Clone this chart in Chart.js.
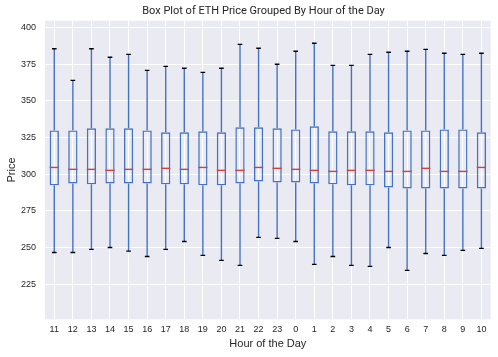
<!DOCTYPE html>
<html>
<head>
<meta charset="utf-8">
<script src="https://cdn.jsdelivr.net/npm/chart.js@4.4.1/dist/chart.umd.min.js"></script>
<style>
html,body{margin:0;padding:0;background:#fff;}
#wrap{width:498px;height:357px;position:relative;}
</style>
</head>
<body>
<div id="wrap"><canvas id="c" width="498" height="357"></canvas></div>
<script>
const hours = ['11','12','13','14','15','16','17','18','19','20','21','22','23','0','1','2','3','4','5','6','7','8','9','10'];
const whiskerLow  = [246.7,246.7,248.8,250.1,247.6,244.0,248.8,254.2,244.7,241.3,237.9,257.0,256.3,254.2,238.6,244.0,237.9,237.2,250.1,234.5,246.0,244.7,248.1,249.5];
const q1          = [292.4,293.7,293.1,293.7,293.7,293.7,293.1,293.1,292.4,292.4,293.7,295.1,294.4,294.4,293.7,293.1,292.4,292.4,291.0,290.3,290.3,290.3,290.3,290.3];
const medians     = [304.6,303.3,303.3,302.6,303.3,303.3,304.0,303.3,304.6,302.6,302.6,304.6,304.0,303.3,302.6,301.9,302.6,302.6,301.9,301.9,304.0,301.9,301.9,304.6];
const q3          = [329.8,329.8,331.2,331.2,331.2,329.8,328.5,328.5,329.2,328.5,331.9,331.9,331.2,330.5,332.6,329.2,329.2,329.2,328.5,329.8,329.8,330.5,330.5,328.5];
const whiskerHigh = [385.4,363.9,385.4,379.6,381.6,370.7,373.4,372.1,369.3,372.1,388.4,385.7,374.8,383.7,389.1,374.1,374.1,381.6,383.0,383.7,385.0,382.3,381.6,382.3];
const yTicks = [225,250,275,300,325,350,375,400];

const BLUE = '#4472C4', RED = '#D6403A', TXT = '#262626';
const FONT = "'Liberation Sans', Arial, sans-serif";

const bgPlugin = {
  id: 'bg',
  beforeDraw(chart) {
    const {ctx, chartArea: a} = chart;
    ctx.save();
    ctx.fillStyle = '#fff';
    ctx.fillRect(0, 0, chart.width, chart.height);
    ctx.fillStyle = '#EAEAF2';
    ctx.fillRect(a.left, a.top, a.right - a.left, a.bottom - a.top);
    ctx.restore();
  }
};

const boxPlugin = {
  id: 'boxparts',
  afterDatasetsDraw(chart) {
    const {ctx} = chart;
    const xs = chart.scales.x, ys = chart.scales.y;
    const meta = chart.getDatasetMeta(0);
    ctx.save();
    ctx.lineCap = 'butt';
    hours.forEach((h, i) => {
      const x = xs.getPixelForValue(i);
      const bw = meta.data[i].width;
      const capHalf = bw / 4;
      ctx.strokeStyle = BLUE;
      ctx.lineWidth = 1.4;
      ctx.beginPath();
      ctx.moveTo(x, ys.getPixelForValue(q3[i]));
      ctx.lineTo(x, ys.getPixelForValue(whiskerHigh[i]));
      ctx.moveTo(x, ys.getPixelForValue(q1[i]));
      ctx.lineTo(x, ys.getPixelForValue(whiskerLow[i]));
      ctx.stroke();
      ctx.strokeStyle = '#000';
      ctx.beginPath();
      const yh = ys.getPixelForValue(whiskerHigh[i]);
      const yl = ys.getPixelForValue(whiskerLow[i]);
      ctx.moveTo(x - capHalf, yh); ctx.lineTo(x + capHalf, yh);
      ctx.moveTo(x - capHalf, yl); ctx.lineTo(x + capHalf, yl);
      ctx.stroke();
      ctx.strokeStyle = RED;
      ctx.beginPath();
      const ym = ys.getPixelForValue(medians[i]);
      ctx.moveTo(x - bw / 2, ym); ctx.lineTo(x + bw / 2, ym);
      ctx.stroke();
    });
    ctx.restore();
  },
  afterDraw(chart) {
    const {ctx} = chart;
    ctx.save();
    ctx.fillStyle = TXT;
    ctx.font = "11px Roboto, 'Liberation Sans', sans-serif";
    ctx.textAlign = 'center';
    ctx.textBaseline = 'middle';
    ctx.fillText('Box Plot of ETH Price Grouped By Hour of the Day', 263.5, 11.7);
    ctx.restore();
  }
};

new Chart(document.getElementById('c'), {
  type: 'bar',
  data: {
    labels: hours,
    datasets: [{
      data: hours.map((h, i) => [q1[i], q3[i]]),
      backgroundColor: 'rgba(0,0,0,0)',
      borderColor: BLUE,
      borderWidth: 1.4,
      borderSkipped: false,
      barPercentage: 0.5,
      categoryPercentage: 1.0
    }]
  },
  options: {
    responsive: false,
    animation: false,
    events: [],
    layout: { padding: { left: 0, right: 7.3, top: 20.7, bottom: 0 } },
    plugins: {
      legend: { display: false },
      tooltip: { enabled: false },
      title: { display: false }
    },
    scales: {
      x: {
        offset: true,
        grid: { offset: false, color: '#fff', lineWidth: 1, drawTicks: false },
        border: { display: false },
        ticks: { color: TXT, font: { family: FONT, size: 9 }, padding: 5, maxRotation: 0, autoSkip: false },
        title: { display: true, text: 'Hour of the Day', color: TXT, font: { family: FONT, size: 11 }, padding: { top: 0, bottom: 6.1 } },
        afterFit(s) { s.height = 37.7; }
      },
      y: {
        min: 201.2,
        max: 404.5,
        grid: { color: '#fff', lineWidth: 1, drawTicks: false },
        border: { display: false },
        ticks: { color: TXT, font: { family: FONT, size: 9 }, padding: 9 },
        afterBuildTicks(s) { s.ticks = yTicks.map(v => ({ value: v })); },
        title: { display: true, text: 'Price', color: TXT, font: { family: FONT, size: 11 }, padding: { top: 5.1, bottom: 0 } },
        afterFit(s) { s.width = 45; }
      }
    }
  },
  plugins: [bgPlugin, boxPlugin]
});
</script>
</body>
</html>
